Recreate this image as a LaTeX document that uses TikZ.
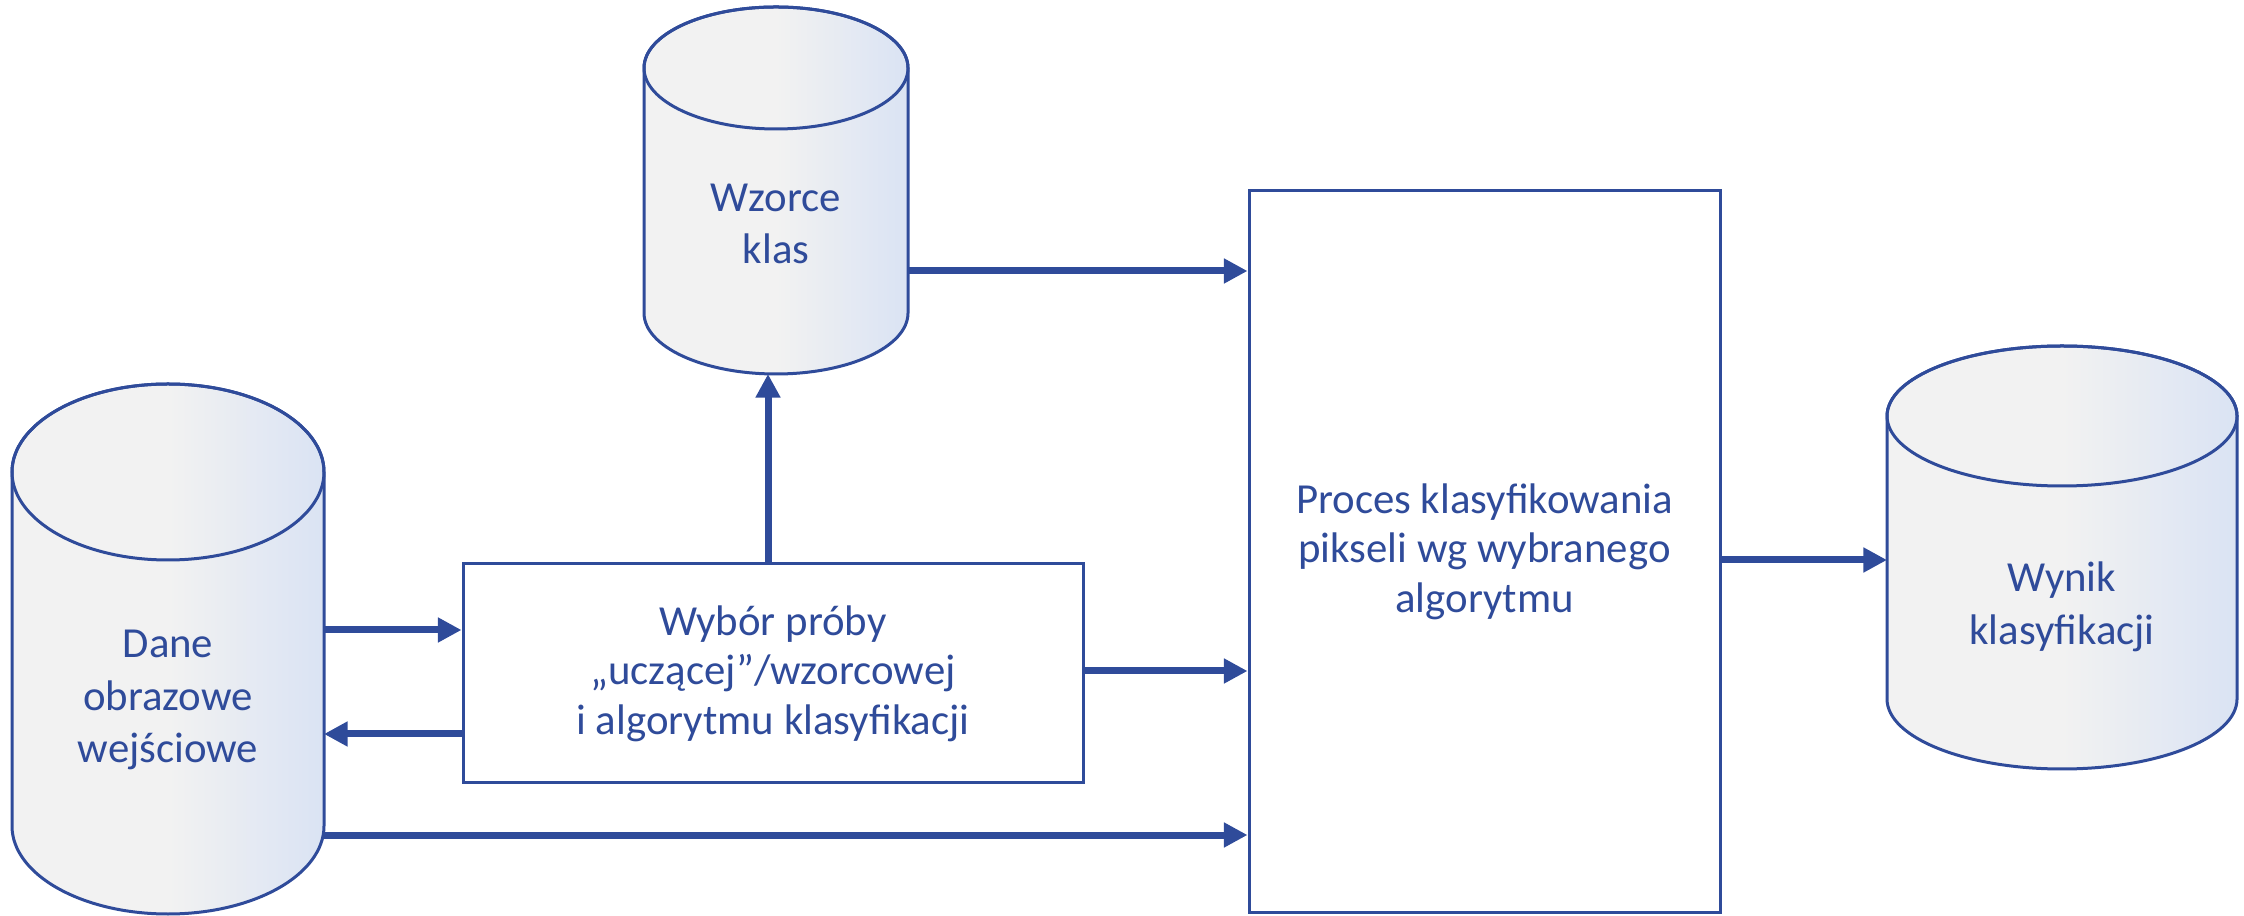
\documentclass[tikz,border=0pt]{standalone}
\usepackage{fontspec}
\setmainfont{Carlito}
\usetikzlibrary{arrows.meta,calc}

\definecolor{ink}{RGB}{47,75,154}
\definecolor{fillL}{RGB}{242,242,242}
\definecolor{fillR}{RGB}{218,227,243}

\tikzset{
  dbfill/.style={left color=fillL, right color=fillR, middle color=fillL, draw=ink, line width=0.75pt},
  dbline/.style={draw=ink, line width=0.75pt},
  lbl/.style={text=ink, align=center, inner sep=0pt, font=\fontsize{10.7}{13.1}\selectfont},
  procbox/.style={draw=ink, line width=0.75pt, fill=white, text=ink, align=center, inner sep=0pt,
                  font=\fontsize{10.7}{12.4}\selectfont},
  arr/.style={draw=ink, line width=1.75pt, -{Triangle[length=5.9pt,width=5.9pt]}},
}

% database cylinder: name, centre x, top-ellipse y, bottom-ellipse y, x radius, y radius
\newcommand\drawdb[6]{%
  \path[dbfill] (#2-#5,-#3) -- (#2-#5,-#4)
     arc[start angle=180,end angle=360,x radius=#5,y radius=#6]
     -- (#2+#5,-#3)
     arc[start angle=0,end angle=180,x radius=#5,y radius=#6] -- cycle;
  \draw[dbline] (#2,-#3) ellipse[x radius=#5,y radius=#6];
  \node[inner sep=0pt, outer sep=0pt, minimum width={2*#5*0.25pt},
        minimum height={(#4-#3+2*#6)*0.25pt}] (#1) at (#2,{-(#3+#4)/2}) {};
}

\begin{document}
\begin{tikzpicture}[x=0.25pt,y=0.25pt]
  \useasboundingbox (0,0) rectangle (2244,-916);

  % data stores
  \drawdb{dane}{168}{472}{826}{156}{88}
  \drawdb{wzo}{776}{68}{313}{132}{61}
  \drawdb{wyn}{2062}{416}{699}{175}{70}

  \node[lbl] (danetxt) at (168,-700) {Dane\\obrazowe\\wejściowe};
  \node[lbl] (wzotxt) at (776,-224) {Wzorce\\klas};
  \node[lbl] (wyntxt) at (2062,-607) {Wynik\\klasyfikacji};

  % process boxes
  \node[procbox, minimum width=155pt, minimum height=54.75pt] (wyb) at (773,-673.5)
    {Wybór próby\\„uczącej”/wzorcowej\\i algorytmu klasyfikacji};
  \node[procbox, minimum width=117.75pt, minimum height=180.25pt] (proc) at (1484.5,-551.5)
    {Proces klasyfikowania\\pikseli wg wybranego\\algorytmu};

  % connector heights
  \coordinate (h271) at (0,-271);
  \coordinate (h560) at (0,-560);
  \coordinate (h630) at (0,-630);
  \coordinate (h671) at (0,-671);
  \coordinate (h734) at (0,-734);
  \coordinate (h835) at (0,-835);

  % connectors
  \draw[arr] (wzo.east |- h271) -- (proc.west |- h271);
  \draw[arr] ([xshift=-1.25pt]wyb.north) -- ([xshift=-1.25pt]wyb.north |- wzo.south);
  \draw[arr] (dane.east |- h630) -- (wyb.west |- h630);
  \draw[arr] (wyb.west |- h734) -- (dane.east |- h734);
  \draw[arr] (wyb.east |- h671) -- (proc.west |- h671);
  \draw[arr] (dane.east |- h835) -- (proc.west |- h835);
  \draw[arr] (proc.east |- h560) -- (wyn.west |- h560);
\end{tikzpicture}
\end{document}
